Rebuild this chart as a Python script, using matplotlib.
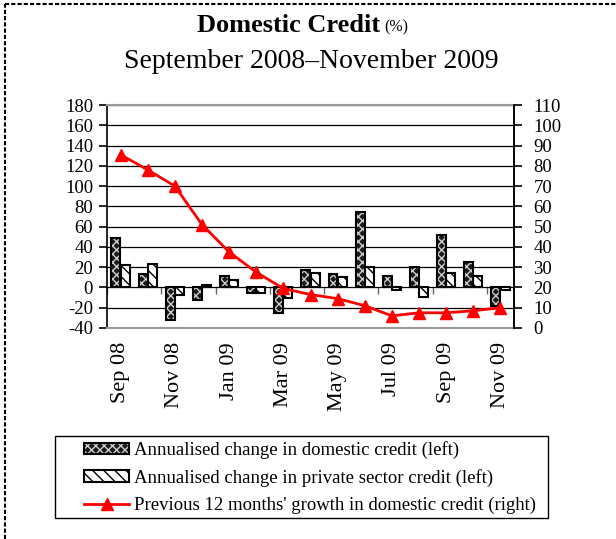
import matplotlib
matplotlib.use('Agg')
import matplotlib.pyplot as plt
import numpy as np
from matplotlib.lines import Line2D
from matplotlib.patches import Rectangle

plt.rcParams['font.family'] = ['Liberation Serif', 'DejaVu Serif']
plt.rcParams['hatch.linewidth'] = 1.0
plt.rcParams['axes.unicode_minus'] = False

# data
months = ['Sep 08', 'Oct 08', 'Nov 08', 'Dec 08', 'Jan 09', 'Feb 09', 'Mar 09', 'Apr 09',
          'May 09', 'Jun 09', 'Jul 09', 'Aug 09', 'Sep 09', 'Oct 09', 'Nov 09']
domestic = [49, 13, -32, -12, 11, -5, -25, 17, 13, 74, 11, 20, 52, 25, -18]
private = [22, 23, -7, 2, 7, -5, -10, 14, 10, 20, -3, -9, 14, 11, -3]
growth12 = [85.5, 78, 70, 51, 37.5, 27.5, 19.5, 16.5, 14.5, 11, 6, 7.5, 7.5, 8.5, 10]

x = np.arange(len(months))
w = 0.33

fig = plt.figure(figsize=(6.16, 5.39), dpi=100)
ax = fig.add_axes([107 / 616, 1 - 328 / 539, 407 / 616, 223 / 539])

b1 = ax.bar(x - 0.17, domestic, w, color='#1a1a1a', hatch='xxxx', edgecolor='#cfcfcf', lw=0, zorder=3)
b1o = ax.bar(x - 0.17, domestic, w, fill=False, edgecolor='black', lw=1.5, zorder=4)
b2 = ax.bar(x + 0.17, private, w, color='white', hatch='\\\\\\', edgecolor='black', lw=1.5, zorder=3)

ax.set_xlim(-0.5, len(months) - 0.5)
ax.set_ylim(-40, 180)
ax.set_yticks(np.arange(-40, 181, 20))
ax.yaxis.grid(True, color='black', lw=0.9, zorder=0)
ax.set_axisbelow(True)
ax.set_xticks(x[::2])
ax.set_xticklabels(months[::2], rotation=90, fontsize=16)
ax.tick_params(axis='x', length=0, pad=10)
ax.tick_params(axis='y', direction='out', length=6, width=1.2, labelsize=13.5, pad=4)
for s in ['top', 'bottom']:
    ax.spines[s].set_color('#999999')
    ax.spines[s].set_linewidth(1.5)
ax.spines['left'].set_linewidth(1.2)
ax.spines['right'].set_linewidth(1.2)

# category axis crossing at zero with tick marks between pairs of months
sec = ax.secondary_xaxis(40 / 220)
sec.set_xticks(np.arange(-0.5, len(months) - 1, 2))
sec.tick_params(direction='out', length=5, width=1, color='#666666', labelbottom=False, labeltop=False)
sec.spines['bottom'].set_visible(False)
sec.spines['top'].set_visible(False)

ax2 = ax.twinx()
ax2.set_ylim(0, 110)
ax2.set_yticks(np.arange(0, 111, 10))
ax2.tick_params(axis='y', direction='out', length=6, width=1.2, labelsize=13.5, pad=8)
for s in ['top', 'bottom', 'left']:
    ax2.spines[s].set_visible(False)
ax2.spines['right'].set_linewidth(1.2)
ln, = ax2.plot(x, growth12, color='red', lw=2, marker='^', markersize=8, zorder=5)

# titles
fig.text(380 / 616, 1 - 25 / 539, 'Domestic Credit', fontsize=19, fontweight='bold',
         ha='right', va='center')
fig.text(384 / 616, 1 - 27 / 539, '(%)', fontsize=11.5, ha='left', va='center')
fig.text(311 / 616, 1 - 61 / 539, 'September 2008\u2013November 2009', fontsize=20,
         ha='center', va='center')

# legend with its own box
fig.add_artist(Rectangle((55 / 616, 1 - 518 / 539), 493 / 616, 82 / 539, transform=fig.transFigure,
                         fill=False, edgecolor='black', lw=1))
fig.legend([(b1, b1o), b2, ln],
           ['Annualised change in domestic credit (left)',
            'Annualised change in private sector credit (left)',
            "Previous 12 months' growth in domestic credit (right)"],
           loc='upper left', bbox_to_anchor=(71 / 616, 1 - 428 / 539), frameon=False,
           fontsize=13.5, handlelength=2.4, handleheight=0.55, handletextpad=0.25,
           labelspacing=0.52, borderpad=0.2)

# dashed page border
fig.add_artist(Line2D([0.008, 1.0], [0.992, 0.992], transform=fig.transFigure,
                      color='black', lw=1.5, ls=(0, (2, 1))))
fig.add_artist(Line2D([0.008, 0.008], [0.0, 0.992], transform=fig.transFigure,
                      color='black', lw=1.5, ls=(0, (2, 1))))

fig.savefig('out.png', dpi=100)
